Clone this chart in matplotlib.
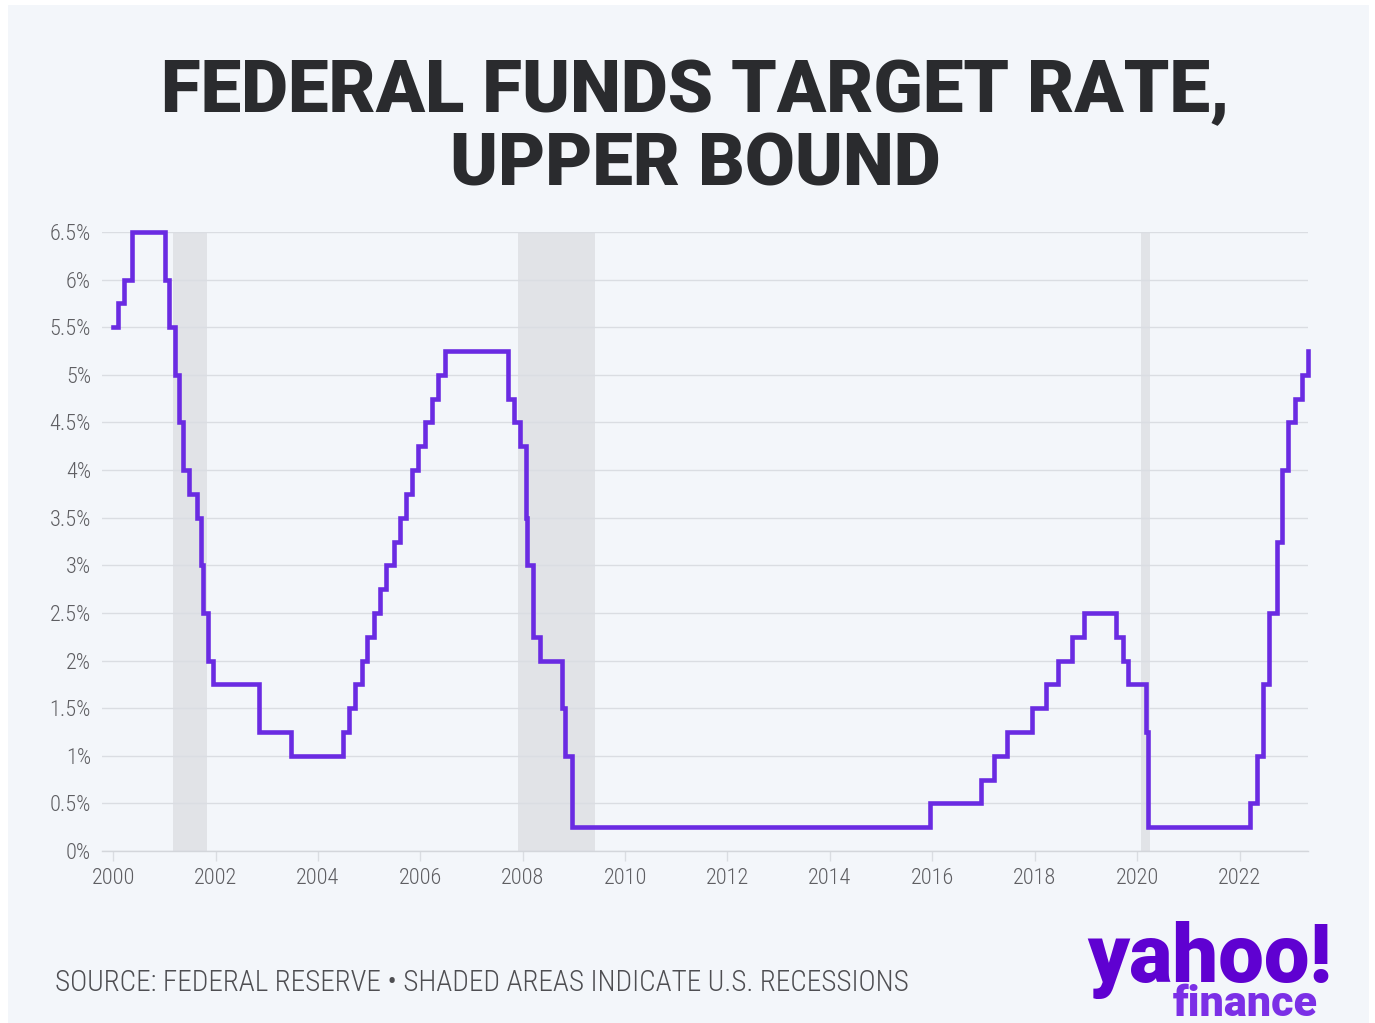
import matplotlib
matplotlib.use("Agg")
import matplotlib.pyplot as plt
import pandas as pd
from matplotlib.patches import Rectangle
from matplotlib import font_manager

# ---------------- data ----------------
change_dates = [
    "2000-01-01", "2000-02-02", "2000-03-21", "2000-05-16",
    "2001-01-03", "2001-01-31", "2001-03-20", "2001-04-18", "2001-05-15",
    "2001-06-27", "2001-08-21", "2001-09-17", "2001-10-02", "2001-11-06",
    "2001-12-11", "2002-11-06", "2003-06-25",
    "2004-06-30", "2004-08-10", "2004-09-21", "2004-11-10", "2004-12-14",
    "2005-02-02", "2005-03-22", "2005-05-03", "2005-06-30", "2005-08-09",
    "2005-09-20", "2005-11-01", "2005-12-13", "2006-01-31", "2006-03-28",
    "2006-05-10", "2006-06-29",
    "2007-09-18", "2007-10-31", "2007-12-11", "2008-01-22", "2008-01-30",
    "2008-03-18", "2008-04-30", "2008-10-08", "2008-10-29", "2008-12-16",
    "2015-12-17", "2016-12-15", "2017-03-16", "2017-06-15", "2017-12-14",
    "2018-03-22", "2018-06-14", "2018-09-27", "2018-12-20",
    "2019-08-01", "2019-09-19", "2019-10-31", "2020-03-04", "2020-03-16",
    "2022-03-17", "2022-05-05", "2022-06-16", "2022-07-28", "2022-09-22",
    "2022-11-03", "2022-12-15", "2023-02-02", "2023-03-23", "2023-05-04",
    "2023-05-06",
]
rates = [
    5.50, 5.75, 6.00, 6.50,
    6.00, 5.50, 5.00, 4.50, 4.00,
    3.75, 3.50, 3.00, 2.50, 2.00,
    1.75, 1.25, 1.00,
    1.25, 1.50, 1.75, 2.00, 2.25,
    2.50, 2.75, 3.00, 3.25, 3.50,
    3.75, 4.00, 4.25, 4.50, 4.75,
    5.00, 5.25,
    4.75, 4.50, 4.25, 3.50, 3.00,
    2.25, 2.00, 1.50, 1.00, 0.25,
    0.50, 0.75, 1.00, 1.25, 1.50,
    1.75, 2.00, 2.25, 2.50,
    2.25, 2.00, 1.75, 1.25, 0.25,
    0.50, 1.00, 1.75, 2.50, 3.25,
    4.00, 4.50, 4.75, 5.00, 5.25,
    5.25,
]
recession_starts = ["2001-03-01", "2007-12-01", "2020-02-01"]
recession_ends = ["2001-11-01", "2009-06-01", "2020-04-01"]
y_ticks = [0, 0.5, 1, 1.5, 2, 2.5, 3, 3.5, 4, 4.5, 5, 5.5, 6, 6.5]
y_labels = ["0%", "0.5%", "1%", "1.5%", "2%", "2.5%", "3%", "3.5%", "4%",
            "4.5%", "5%", "5.5%", "6%", "6.5%"]
x_tick_years = list(range(2000, 2023, 2))

title_line1 = "FEDERAL FUNDS TARGET RATE,"
title_line2 = "UPPER BOUND"
source_text = "SOURCE: FEDERAL RESERVE \u2022 SHADED AREAS INDICATE U.S. RECESSIONS"

# ---------------- style ----------------
W, H = 1375, 1023
BG = "#F3F6FA"
LINE = "#6A2BE2"
GRID = "#DADDE2"
SHADE = "#E1E3E7"
TICKC = "#5E5E62"
TITLEC = "#2A2B2E"

available = {f.name for f in font_manager.fontManager.ttflist}
narrow_candidates = ["Liberation Sans Narrow", "Roboto Condensed",
                     "Open Sans Condensed", "Noto Sans Condensed",
                     "DejaVu Sans Condensed", "Liberation Sans"]
NARROW = [f for f in narrow_candidates if f in available] + ["DejaVu Sans"]
NARROW = NARROW[:1] + ["DejaVu Sans"]

fig = plt.figure(figsize=(W / 100, H / 100), dpi=100)
fig.patch.set_facecolor("white")
fig.add_artist(Rectangle((8 / W, 0), (W - 14) / W, (H - 5) / H,
                         transform=fig.transFigure, facecolor=BG,
                         edgecolor="none", zorder=0))

def fx(px):
    return px / W

def fy(py):
    return 1 - py / H

ax_left, ax_right, ax_top, ax_bot = 102, 1308, 232, 851
ax = fig.add_axes([fx(ax_left), fy(ax_bot), (ax_right - ax_left) / W,
                   (ax_bot - ax_top) / H])
ax.set_facecolor("none")

dates = pd.to_datetime(change_dates)
ax.plot(dates, rates, drawstyle="steps-post", color=LINE, lw=3.3,
        solid_joinstyle="miter", clip_on=False, zorder=5)

for s, e in zip(recession_starts, recession_ends):
    ax.axvspan(pd.Timestamp(s), pd.Timestamp(e), color=SHADE, lw=0, zorder=1)

ax.set_xlim(pd.Timestamp("1999-10-14"), pd.Timestamp("2023-05-04"))
ax.set_ylim(0, 6.5)

ax.set_yticks(y_ticks)
ax.set_yticklabels(y_labels)
ax.set_xticks([pd.Timestamp(f"{y}-01-01") for y in x_tick_years])
ax.set_xticklabels([str(y) for y in x_tick_years])

ax.grid(axis="y", color=GRID, lw=1.0, zorder=0)
ax.grid(axis="x", visible=False)
for sp in ["top", "right", "left"]:
    ax.spines[sp].set_visible(False)
ax.spines["bottom"].set_color("#D3D6DB")
ax.spines["bottom"].set_linewidth(1.0)

ax.tick_params(axis="y", length=0, pad=8, labelsize=16, labelcolor=TICKC)
ax.tick_params(axis="x", length=7, width=1, color="#DADDE2", pad=5,
               labelsize=16, labelcolor=TICKC)
for lab in ax.get_xticklabels() + ax.get_yticklabels():
    lab.set_fontfamily(NARROW)
    lab.set_fontweight("light")

# ---------------- title ----------------
t1 = fig.text(0.5055, fy(112), title_line1, ha="center", va="baseline",
              fontsize=54, fontweight="black", color=TITLEC,
              family=["Roboto", "DejaVu Sans"])
t2 = fig.text(0.5055, fy(185), title_line2, ha="center", va="baseline",
              fontsize=54, fontweight="black", color=TITLEC,
              family=["Roboto", "DejaVu Sans"])
fig.canvas.draw()
r = fig.canvas.get_renderer()
w1 = t1.get_window_extent(r).width
scale = 1070 / w1
t1.set_fontsize(54 * scale)
t2.set_fontsize(54 * scale)

# ---------------- source ----------------
src = fig.text(fx(55), fy(991), source_text, ha="left", va="baseline",
               fontsize=17, color="#4E4E52", family=NARROW,
               fontweight="light")
fig.canvas.draw()
ws = src.get_window_extent(r).width
src.set_fontsize(17 * 857 / ws)

# ---------------- logo ----------------
ly = fig.text(fx(1332), fy(982), "yahoo!", ha="right", va="baseline",
              fontsize=50, fontweight="black", color="#5F01D1",
              family=["Roboto", "DejaVu Sans"])
lf = fig.text(fx(1318), fy(1016), "finance", ha="right", va="baseline",
              fontsize=27, fontweight="black", color="#7B2FE6",
              family=["Roboto", "DejaVu Sans"])
fig.canvas.draw()
ly.set_fontsize(50 * 245 / ly.get_window_extent(r).width)
lf.set_fontsize(27 * 145 / lf.get_window_extent(r).width)

fig.savefig("out.png", dpi=100, facecolor=fig.get_facecolor())
